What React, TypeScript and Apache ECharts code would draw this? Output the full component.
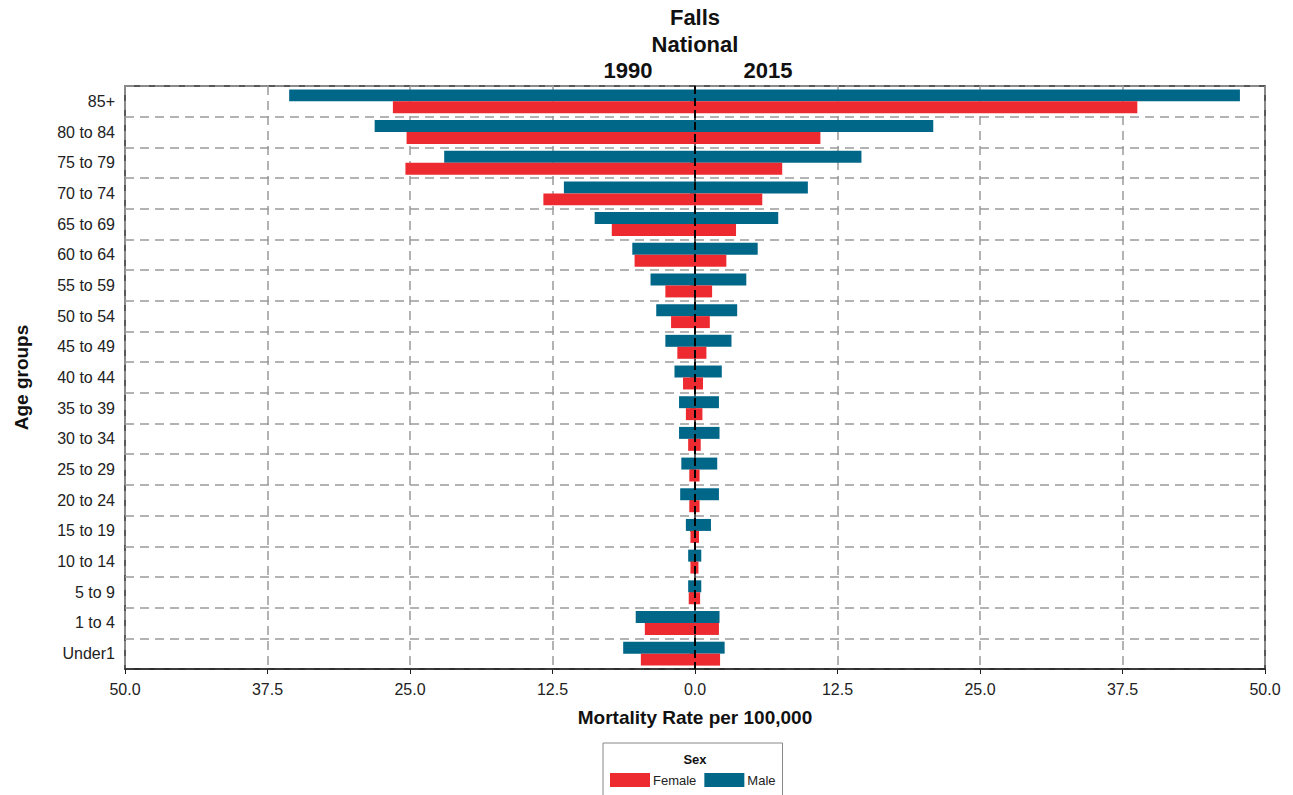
import React, { useEffect, useRef } from "react";
import * as echarts from "echarts";

const categories = [
  "85+", "80 to 84", "75 to 79", "70 to 74", "65 to 69", "60 to 64", "55 to 59",
  "50 to 54", "45 to 49", "40 to 44", "35 to 39", "30 to 34", "25 to 29", "20 to 24",
  "15 to 19", "10 to 14", "5 to 9", "1 to 4", "Under1",
];

// 1990 (drawn to the left)
const male1990 = [35.6, 28.1, 22.0, 11.5, 8.8, 5.5, 3.9, 3.4, 2.6, 1.8, 1.4, 1.4, 1.2, 1.3, 0.8, 0.6, 0.6, 5.2, 6.3];
const female1990 = [26.5, 25.3, 25.4, 13.3, 7.3, 5.3, 2.6, 2.1, 1.55, 1.05, 0.8, 0.6, 0.5, 0.5, 0.4, 0.4, 0.55, 4.4, 4.75];
// 2015 (drawn to the right)
const male2015 = [47.8, 20.9, 14.6, 9.9, 7.3, 5.5, 4.5, 3.7, 3.2, 2.35, 2.1, 2.15, 1.95, 2.1, 1.4, 0.55, 0.55, 2.15, 2.6];
const female2015 = [38.8, 11.0, 7.65, 5.9, 3.6, 2.75, 1.5, 1.3, 1.0, 0.7, 0.65, 0.5, 0.4, 0.4, 0.35, 0.3, 0.45, 2.1, 2.2];

const RED = "#ED2A2F";
const BLUE = "#006788";
const NARROW = "'Liberation Sans Narrow', 'Arial Narrow', 'Liberation Sans', Arial, sans-serif";
const SANS = "'Liberation Sans', Arial, sans-serif";

export default function App() {
  const ref = useRef<HTMLDivElement>(null);
  useEffect(() => {
    if (!ref.current) return;
    const chart = echarts.init(ref.current, null, { renderer: "svg" });
    const barCommon = { type: "bar", barCategoryGap: "22%", barGap: "0%" };
    chart.setOption({
      animation: false,
      backgroundColor: "#fff",
      grid: { left: 125, right: 28, top: 86, bottom: 126, show: true, borderColor: "#222", borderWidth: 1.5, backgroundColor: "transparent" },
      graphic: [
        { type: "text", x: 695, y: 6, style: { text: "Falls", font: `bold 22px ${NARROW}`, fill: "#111", align: "center" } },
        { type: "text", x: 695, y: 33, style: { text: "National", font: `bold 22px ${NARROW}`, fill: "#111", align: "center" } },
        { type: "text", x: 628, y: 59, style: { text: "1990", font: `bold 22px ${NARROW}`, fill: "#111", align: "center" } },
        { type: "text", x: 768, y: 59, style: { text: "2015", font: `bold 22px ${NARROW}`, fill: "#111", align: "center" } },
        { type: "text", x: 695, y: 753, style: { text: "Sex", font: `bold 13px ${NARROW}`, fill: "#111", align: "center" } },
      ],
      legend: {
        data: ["Female", "Male"],
        left: 603,
        top: 743,
        padding: [30, 7, 10, 7],
        borderColor: "#888",
        borderWidth: 1,
        itemWidth: 40,
        itemHeight: 14,
        itemGap: 8,
        icon: "rect",
        textStyle: { fontFamily: NARROW, fontSize: 13, color: "#222", padding: [0, 0, 0, -2] },
      },
      xAxis: {
        type: "value",
        min: -50,
        max: 50,
        interval: 12.5,
        name: "Mortality Rate per 100,000",
        nameLocation: "middle",
        nameGap: 39,
        nameTextStyle: { fontFamily: NARROW, fontWeight: "bold", fontSize: 19, color: "#111" },
        axisLine: { show: true, lineStyle: { color: "#222", width: 1.5 } },
        axisTick: { show: true, length: 5, lineStyle: { color: "#222" } },
        axisLabel: {
          fontFamily: NARROW,
          fontSize: 16,
          color: "#222",
          margin: 12,
          formatter: (v: number) => Math.abs(v).toFixed(1),
        },
        splitLine: { show: true, lineStyle: { color: "#9a9a9a", width: 1.5, type: [9, 6] } },
      },
      yAxis: {
        type: "category",
        data: categories,
        inverse: true,
        name: "Age groups",
        nameLocation: "middle",
        nameGap: 94,
        nameTextStyle: { fontFamily: SANS, fontWeight: "bold", fontSize: 19, color: "#111" },
        axisLine: { show: true, lineStyle: { color: "#222", width: 1.5 } },
        axisTick: { show: true, alignWithLabel: true, length: 5, lineStyle: { color: "#666" } },
        axisLabel: { fontFamily: SANS, fontSize: 16, color: "#222", margin: 10 },
        splitLine: { show: true, lineStyle: { color: "#9a9a9a", width: 1.5, type: [9, 6] } },
      },
      series: [
        { ...barCommon, name: "Male", stack: "male", itemStyle: { color: BLUE }, data: male1990.map((v) => -v) },
        { ...barCommon, name: "Male", stack: "male", itemStyle: { color: BLUE }, data: male2015 },
        { ...barCommon, name: "Female", stack: "female", itemStyle: { color: RED }, data: female1990.map((v) => -v) },
        { ...barCommon, name: "Female", stack: "female", itemStyle: { color: RED }, data: female2015 },
        {
          type: "line",
          name: "zero",
          data: [],
          z: 10,
          markLine: {
            silent: true,
            symbol: "none",
            label: { show: false },
            lineStyle: { color: "#000", width: 2, type: [8, 4] },
            data: [{ xAxis: 0 }],
          },
        },
      ],
    });
    return () => chart.dispose();
  }, []);
  return (
    <div
      ref={ref}
      style={{ position: "absolute", left: 0, top: 0, width: 1293, height: 795 }}
    />
  );
}
